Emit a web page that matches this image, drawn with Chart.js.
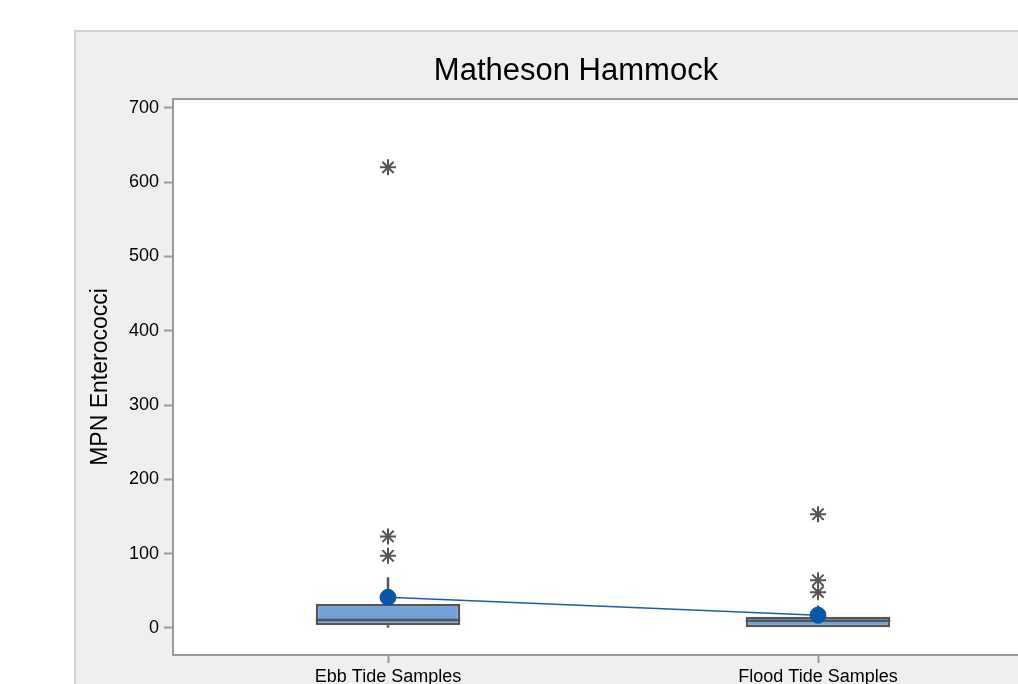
<!DOCTYPE html>
<html>
<head>
<meta charset="utf-8">
<title>Matheson Hammock</title>
<script src="https://cdn.jsdelivr.net/npm/chart.js@4.4.1/dist/chart.umd.min.js"></script>
<style>
  html, body { margin: 0; padding: 0; background: #ffffff; overflow: hidden; }
  #wrap { position: absolute; left: 0; top: 0; width: 1078px; height: 700px; }
</style>
</head>
<body>
<div id="wrap"><canvas id="c" width="1078" height="700"></canvas></div>
<script>
// Sample groups
const categories = ['Ebb Tide Samples', 'Flood Tide Samples'];

// Box statistics per group
const q1Values = [3.5, 0];
const medianValues = [10.5, 9.5];
const q3Values = [32, 15];
const whiskerLow = [0, 0];
const whiskerHigh = [68, 30];
const meanValues = [41, 17];

// Outliers per group
const ebbOutliers = [620, 123, 97];
const floodOutliers = [153, 64, 48];

// Y axis ticks
const yTicks = [0, 100, 200, 300, 400, 500, 600, 700];
const yMin = -36.6;
const yMax = 712;

const FONT = '"Liberation Sans", Arial, Helvetica, sans-serif';
const GREY = '#555555';

const outlierPoints = [];
ebbOutliers.forEach(v => outlierPoints.push({ x: categories[0], y: v }));
floodOutliers.forEach(v => outlierPoints.push({ x: categories[1], y: v }));

// Panel background, plot frame and title
const framePlugin = {
  id: 'frame',
  beforeDraw(chart) {
    const { ctx, chartArea: a, width, height } = chart;
    ctx.save();
    ctx.fillStyle = '#ffffff';
    ctx.fillRect(0, 0, width, height);
    ctx.fillStyle = '#efefef';
    ctx.fillRect(74, 30, width - 74, height - 30);
    ctx.strokeStyle = '#d4d4d4';
    ctx.lineWidth = 2;
    ctx.beginPath();
    ctx.moveTo(75, height);
    ctx.lineTo(75, 31);
    ctx.lineTo(width, 31);
    ctx.stroke();
    ctx.fillStyle = '#ffffff';
    ctx.fillRect(a.left, a.top, a.right - a.left, a.bottom - a.top);
    ctx.fillStyle = '#000000';
    ctx.font = '31px ' + FONT;
    ctx.textAlign = 'center';
    ctx.textBaseline = 'middle';
    ctx.fillText('Matheson Hammock', 576, 71);
    ctx.restore();
  },
  beforeDatasetsDraw(chart) {
    // whiskers, drawn behind the boxes
    const { ctx } = chart;
    const x = chart.scales.x, y = chart.scales.y;
    ctx.save();
    ctx.strokeStyle = GREY;
    ctx.lineWidth = 2.5;
    categories.forEach((c, i) => {
      const px = x.getPixelForValue(i);
      ctx.beginPath();
      ctx.moveTo(px, y.getPixelForValue(q3Values[i]));
      ctx.lineTo(px, y.getPixelForValue(whiskerHigh[i]));
      ctx.moveTo(px, y.getPixelForValue(q1Values[i]));
      ctx.lineTo(px, y.getPixelForValue(whiskerLow[i]));
      ctx.stroke();
    });
    ctx.restore();
  },
  afterDatasetDraw(chart, args) {
    // median lines across each box
    if (args.meta.type !== 'bar') return;
    const { ctx } = chart;
    const y = chart.scales.y;
    ctx.save();
    ctx.strokeStyle = GREY;
    ctx.lineWidth = 2.5;
    args.meta.data.forEach((bar, i) => {
      const py = y.getPixelForValue(medianValues[i]);
      ctx.beginPath();
      ctx.moveTo(bar.x - bar.width / 2, py);
      ctx.lineTo(bar.x + bar.width / 2, py);
      ctx.stroke();
    });
    ctx.restore();
  },
  afterDraw(chart) {
    const { ctx, chartArea: a } = chart;
    ctx.save();
    ctx.strokeStyle = '#9a9a9a';
    ctx.lineWidth = 2;
    ctx.strokeRect(a.left, a.top, a.right - a.left, a.bottom - a.top);
    ctx.restore();
  }
};

new Chart(document.getElementById('c'), {
  data: {
    labels: categories,
    datasets: [
      {
        type: 'bar',
        order: 3,
        data: categories.map((c, i) => [q1Values[i], q3Values[i]]),
        backgroundColor: '#72a0d9',
        borderColor: GREY,
        borderWidth: 2.5,
        borderSkipped: false,
        barPercentage: 1,
        categoryPercentage: 0.336
      },
      {
        type: 'line',
        order: 2,
        data: meanValues,
        borderColor: '#1c5eab',
        borderWidth: 1.5,
        pointRadius: 8,
        pointBackgroundColor: '#0a56a8',
        pointBorderColor: '#0a56a8',
        pointBorderWidth: 1
      },
      {
        type: 'line',
        order: 1,
        data: outlierPoints,
        showLine: false,
        pointStyle: 'star',
        pointRadius: 8,
        pointBorderColor: GREY,
        pointBorderWidth: 2,
        pointBackgroundColor: GREY
      }
    ]
  },
  options: {
    responsive: false,
    animation: false,
    devicePixelRatio: 1,
    layout: { padding: { left: 74, top: 99, right: 45, bottom: 0 } },
    plugins: { legend: { display: false }, tooltip: { enabled: false }, title: { display: false } },
    scales: {
      x: {
        type: 'category',
        offset: true,
        afterFit(s) { s.height = 45; },
        grid: { display: true, drawOnChartArea: false, offset: false, tickLength: 8, tickColor: '#9a9a9a', tickWidth: 2 },
        border: { display: true, color: '#9a9a9a', width: 2 },
        ticks: { color: '#000000', font: { family: FONT, size: 18 }, padding: 3, maxRotation: 0 }
      },
      y: {
        type: 'linear',
        min: yMin,
        max: yMax,
        afterFit(s) { s.width = 99; },
        afterBuildTicks(s) { s.ticks = yTicks.map(v => ({ value: v })); },
        grid: { display: true, drawOnChartArea: false, tickLength: 9, tickColor: '#9a9a9a', tickWidth: 2 },
        border: { display: true, color: '#9a9a9a', width: 2 },
        ticks: { color: '#000000', font: { family: FONT, size: 18 }, padding: 5 },
        title: { display: true, text: 'MPN Enterococci', color: '#000000', font: { family: FONT, size: 23 }, padding: { top: 13, bottom: 0 } }
      }
    }
  },
  plugins: [framePlugin]
});
</script>
</body>
</html>
